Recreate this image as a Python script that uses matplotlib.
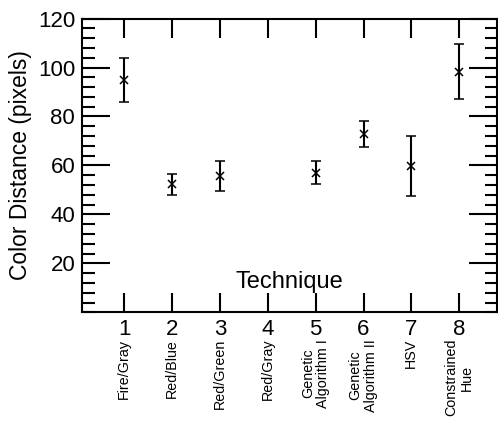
import matplotlib
matplotlib.use("Agg")
import matplotlib.pyplot as plt
from matplotlib.ticker import MultipleLocator
import matplotlib.transforms as mtransforms

plt.rcParams['font.family'] = ['Liberation Sans', 'DejaVu Sans']

# technique index, mean distance and error (technique 4 has no point)
techniques = [1, 2, 3, 5, 6, 7, 8]
means = [95, 52.4, 55.8, 57.1, 72.9, 59.8, 98.2]
errors = [9, 4.3, 6.1, 4.7, 5.3, 12.2, 11.2]

tick_pos = [1, 2, 3, 4, 5, 6, 7, 8]
names = ["Fire/Gray", "Red/Blue", "Red/Green", "Red/Gray",
         "Genetic\nAlgorithm I", "Genetic\nAlgorithm II", "HSV",
         "Constrained\nHue"]

fig = plt.figure(figsize=(4.98, 4.21), dpi=100)
ax = fig.add_axes([0.165, 0.258, 0.833, 0.698])

ax.errorbar(techniques, means, yerr=errors, fmt='x', color='black',
            ecolor='black', elinewidth=1.5, capsize=3.5, capthick=1.5,
            markersize=6, markeredgewidth=1.1)

ax.set_xlim(0.12, 8.79)
ax.set_ylim(0, 120)
ax.set_xticks(tick_pos)
ax.set_xticklabels([str(t) for t in tick_pos])
ax.yaxis.set_major_locator(MultipleLocator(20))
ax.yaxis.set_minor_locator(MultipleLocator(4))
ax.set_yticks([20, 40, 60, 80, 100, 120])

ax.tick_params(axis='y', which='major', direction='in', length=20, width=1.5,
               right=True, labelsize=16, pad=5)
ax.tick_params(axis='y', which='minor', direction='in', length=9, width=1.5,
               right=True)
ax.tick_params(axis='x', which='major', direction='in', length=14, width=1.5,
               top=True, labelsize=16, pad=5)
for s in ax.spines.values():
    s.set_linewidth(1.5)

ax.set_ylabel("Color Distance (pixels)", fontsize=16.5, labelpad=4)
ax.text(0.5, 0.105, "Technique", transform=ax.transAxes, ha='center',
        va='center', fontsize=17)

trans = mtransforms.blended_transform_factory(ax.transData, ax.transAxes)
for p, n in zip(tick_pos, names):
    ax.text(p, -0.09, n, transform=trans, rotation=90, ha='center', va='top',
            multialignment='center', fontsize=10.3, linespacing=1.15)

fig.savefig("out.png", dpi=100)
